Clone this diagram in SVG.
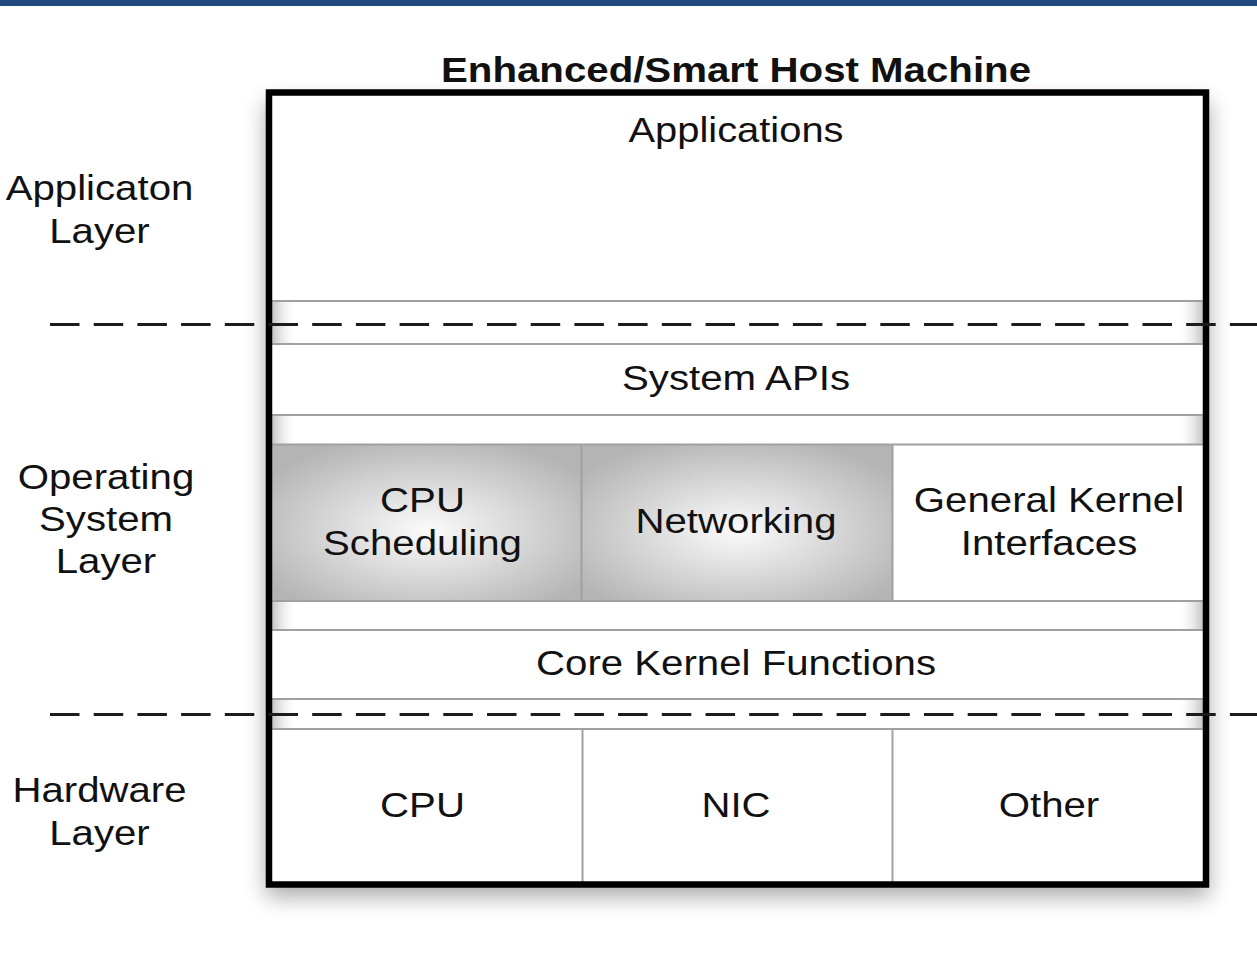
<svg xmlns="http://www.w3.org/2000/svg" width="1257" height="954" viewBox="0 0 1257 954">
  <defs>
    <style>
      .lbl { font-family: "Liberation Sans", Arial, Helvetica, sans-serif; font-size: 35px; fill: #111; text-anchor: middle; }
      .ttl { font-weight: bold; }
      .rule { stroke: #a0a0a0; stroke-width: 2; fill: none; }
      .sep { stroke: #1c1c1c; stroke-width: 3; stroke-dasharray: 29.5 14.2; fill: none; }
      .frame { fill: none; stroke: #000; stroke-width: 6.5; }
    </style>
    <filter id="soft" x="-10%" y="-10%" width="120%" height="125%">
      <feGaussianBlur stdDeviation="11"/>
    </filter>
    <radialGradient id="shade" cx="0.5" cy="0.55" r="0.62">
      <stop offset="0" stop-color="#fbfbfb"/>
      <stop offset="1" stop-color="#b4b4b4"/>
    </radialGradient>
    <linearGradient id="edgeL" x1="0" x2="1" y1="0" y2="0">
      <stop offset="0" stop-color="#c4c4c4"/>
      <stop offset="1" stop-color="#ffffff" stop-opacity="0"/>
    </linearGradient>
    <linearGradient id="edgeR" x1="0" x2="1" y1="0" y2="0">
      <stop offset="0" stop-color="#ffffff" stop-opacity="0"/>
      <stop offset="1" stop-color="#c4c4c4"/>
    </linearGradient>
  </defs>

  <rect width="1257" height="954" fill="#fff"/>
  <!-- top banner strip -->
  <rect x="0" y="0" width="1257" height="6" fill="#1f497d"/>

  <!-- title -->
  <text class="lbl ttl" x="736" y="82" textLength="590" lengthAdjust="spacingAndGlyphs">Enhanced/Smart Host Machine</text>

  <!-- layer captions -->
  <g id="caption-app">
    <text class="lbl" x="99.5" y="200" textLength="187.7" lengthAdjust="spacingAndGlyphs">Applicaton</text>
    <text class="lbl" x="99.5" y="243" textLength="100.5" lengthAdjust="spacingAndGlyphs">Layer</text>
  </g>
  <g id="caption-os">
    <text class="lbl" x="106" y="489" textLength="176.5" lengthAdjust="spacingAndGlyphs">Operating</text>
    <text class="lbl" x="106" y="531" textLength="134" lengthAdjust="spacingAndGlyphs">System</text>
    <text class="lbl" x="106" y="573" textLength="100.5" lengthAdjust="spacingAndGlyphs">Layer</text>
  </g>
  <g id="caption-hw">
    <text class="lbl" x="99.5" y="802" textLength="174" lengthAdjust="spacingAndGlyphs">Hardware</text>
    <text class="lbl" x="99.5" y="845" textLength="100.5" lengthAdjust="spacingAndGlyphs">Layer</text>
  </g>

  <!-- host machine frame with soft shadow -->
  <rect x="266" y="102" width="943" height="795" fill="#000" opacity="0.33" filter="url(#soft)"/>
  <rect id="host" x="269" y="92.5" width="937" height="792" fill="#fff"/>

  <!-- spacer bands with shaded ends -->
  <g id="bands">
    <rect x="272" y="302" width="26" height="41" fill="url(#edgeL)"/>
    <rect x="1177" y="302" width="26" height="41" fill="url(#edgeR)"/>
    <rect x="272" y="416" width="26" height="28" fill="url(#edgeL)"/>
    <rect x="1177" y="416" width="26" height="28" fill="url(#edgeR)"/>
    <rect x="272" y="602" width="26" height="27" fill="url(#edgeL)"/>
    <rect x="1177" y="602" width="26" height="27" fill="url(#edgeR)"/>
    <rect x="272" y="700" width="26" height="28" fill="url(#edgeL)"/>
    <rect x="1177" y="700" width="26" height="28" fill="url(#edgeR)"/>
  </g>

  <g id="applications">
    <text class="lbl" x="736" y="142" textLength="215" lengthAdjust="spacingAndGlyphs">Applications</text>
  </g>

  <g id="system-apis">
    <text class="lbl" x="736" y="390" textLength="228" lengthAdjust="spacingAndGlyphs">System APIs</text>
  </g>

  <g id="cpu-scheduling">
    <rect x="272" y="445" width="309" height="155" fill="url(#shade)"/>
    <text class="lbl" x="422.5" y="512" textLength="84.9" lengthAdjust="spacingAndGlyphs">CPU</text>
    <text class="lbl" x="422.5" y="555" textLength="198.9" lengthAdjust="spacingAndGlyphs">Scheduling</text>
  </g>

  <g id="networking">
    <rect x="582" y="445" width="310" height="155" fill="url(#shade)"/>
    <text class="lbl" x="736" y="533" textLength="201" lengthAdjust="spacingAndGlyphs">Networking</text>
  </g>

  <g id="kernel-interfaces">
    <text class="lbl" x="1049" y="512" textLength="270.3" lengthAdjust="spacingAndGlyphs">General Kernel</text>
    <text class="lbl" x="1049" y="555" textLength="176.5" lengthAdjust="spacingAndGlyphs">Interfaces</text>
  </g>

  <g id="core-kernel">
    <text class="lbl" x="736" y="675" textLength="400" lengthAdjust="spacingAndGlyphs">Core Kernel Functions</text>
  </g>

  <g id="hw-cpu">
    <text class="lbl" x="422.5" y="817" textLength="84.9" lengthAdjust="spacingAndGlyphs">CPU</text>
  </g>
  <g id="hw-nic">
    <text class="lbl" x="736" y="817" textLength="69" lengthAdjust="spacingAndGlyphs">NIC</text>
  </g>
  <g id="hw-other">
    <text class="lbl" x="1049" y="817" textLength="100.5" lengthAdjust="spacingAndGlyphs">Other</text>
  </g>

  <!-- row and column rules inside the frame -->
  <g id="rules" class="rule">
    <line x1="272" y1="301" x2="1203" y2="301"/>
    <line x1="272" y1="344" x2="1203" y2="344"/>
    <line x1="272" y1="415" x2="1203" y2="415"/>
    <line x1="272" y1="444.5" x2="1203" y2="444.5"/>
    <line x1="272" y1="601" x2="1203" y2="601"/>
    <line x1="272" y1="630" x2="1203" y2="630"/>
    <line x1="272" y1="699" x2="1203" y2="699"/>
    <line x1="272" y1="729" x2="1203" y2="729"/>
    <line x1="581.5" y1="445" x2="581.5" y2="600"/>
    <line x1="892.5" y1="445" x2="892.5" y2="600"/>
    <line x1="582.5" y1="730" x2="582.5" y2="882"/>
    <line x1="892.5" y1="730" x2="892.5" y2="882"/>
  </g>

  <rect class="frame" x="269" y="92.5" width="937" height="792"/>

  <!-- layer boundaries -->
  <g id="connectors">
    <line class="sep" x1="50" y1="324.5" x2="1257" y2="324.5"/>
    <line class="sep" x1="50" y1="714.5" x2="1257" y2="714.5"/>
  </g>
</svg>
